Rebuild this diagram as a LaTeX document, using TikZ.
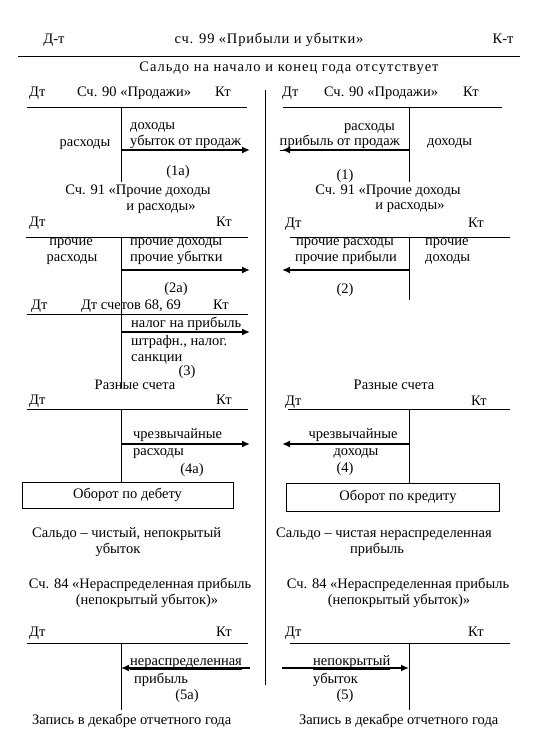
\documentclass[tikz,border=0pt]{standalone}
\usepackage{fontspec}
\setmainfont{Liberation Serif}
\newfontfamily\spacedfont{Liberation Serif}[LetterSpace=5.5]
\newfontfamily\widefont{Liberation Serif}[LetterSpace=7]
\usetikzlibrary{arrows.meta}
\begin{document}
\begin{tikzpicture}[x=1pt,y=-1pt,
  txt/.style={inner sep=0pt, font=\fontsize{14.5}{16}\selectfont},
  tl/.style={line width=0.9pt},
  arr/.style={line width=1.8pt,-{Latex[length=8pt,width=7pt]}},
  frame/.style={draw,line width=0.9pt,inner sep=0pt}]
\useasboundingbox (0,0) rectangle (551,735);

% ---------- header ----------
\node[txt,anchor=base] (dt0) at (54,44) {Д-т};
\node[txt,anchor=base] (title) at (269,44) {\spacedfont сч. 99 «Прибыли и убытки»};
\node[txt,anchor=base] (kt0) at (503,44) {К-т};
\coordinate (h0a) at (18,56); \coordinate (h0b) at (520,56);
\draw[tl] (h0a) -- (h0b);
\node[txt,anchor=base] (saldo0) at (289,72) {\widefont Сальдо на начало и конец года отсутствует};
\coordinate (mid1) at (265,90); \coordinate (mid2) at (265,685);
\draw[tl] (mid1) -- (mid2);

% ---------- left: 90 ----------
\node[txt,anchor=base west] (l90dt) at (29,97) {Дт};
\node[txt,anchor=base] (l90t) at (134,97) {Сч. 90 «Продажи»};
\node[txt,anchor=base west] (l90kt) at (215,97) {Кт};
\coordinate (l90a) at (27,107); \coordinate (l90b) at (247,107);
\coordinate (l90v1) at (121,107); \coordinate (l90v2) at (121,182);
\draw[tl] (l90a) -- (l90b); \draw[tl] (l90v1) -- (l90v2);
\node[txt,anchor=base] (l90r) at (85,147) {расходы};
\node[txt,anchor=base west] (l90d1) at (130,130) {доходы};
\node[txt,anchor=base west] (l90d2) at (130,146) {\underline{убыток от продаж}};
\coordinate (l90s) at (121,150); \coordinate (l90e) at (250,150);
\draw[arr] (l90s) -- (l90e);
\node[txt,anchor=base] (l90n) at (178,176) {(1а)};
\node[txt,anchor=base] (l91t1) at (138,195) {Сч. 91 «Прочие доходы};
\node[txt,anchor=base] (l91t2) at (161,211) {и расходы»};

% ---------- left: 91 ----------
\node[txt,anchor=base west] (l91dt) at (29,226) {Дт};
\node[txt,anchor=base west] (l91kt) at (216,226) {Кт};
\coordinate (l91a) at (26,237); \coordinate (l91b) at (248,237);
\coordinate (l91v1) at (121,237); \coordinate (l91v2) at (121,388);
\draw[tl] (l91a) -- (l91b); \draw[tl] (l91v1) -- (l91v2);
\node[txt,anchor=base] (l91r1) at (71,245) {прочие};
\node[txt,anchor=base] (l91r2) at (72,261) {расходы};
\node[txt,anchor=base west] (l91d1) at (130,245) {прочие доходы};
\node[txt,anchor=base west] (l91d2) at (130,261) {прочие убытки};
\coordinate (l91s) at (121,270); \coordinate (l91e) at (250,270);
\draw[arr] (l91s) -- (l91e);
\node[txt,anchor=base] (l91n) at (176,292) {(2а)};

% ---------- left: 68, 69 ----------
\node[txt,anchor=base west] (l68dt) at (31,309) {Дт};
\node[txt,anchor=base] (l68t) at (131,309) {Дт счетов 68, 69};
\node[txt,anchor=base west] (l68kt) at (213,309) {Кт};
\coordinate (l68a) at (27,314); \coordinate (l68b) at (248,314);
\draw[tl] (l68a) -- (l68b);
\node[txt,anchor=base west] (l68d1) at (131,327) {налог на прибыль};
\coordinate (l68s) at (121,332); \coordinate (l68e) at (250,332);
\draw[arr] (l68s) -- (l68e);
\node[txt,anchor=base west] (l68d2) at (131,345) {штрафн., налог.};
\node[txt,anchor=base west] (l68d3) at (131,361) {санкции};
\node[txt,anchor=base] (l68n) at (187,375) {(3)};
\node[txt,anchor=base] (lrt) at (135,389) {Разные счета};

% ---------- left: various ----------
\node[txt,anchor=base west] (lrdt) at (29,404) {Дт};
\node[txt,anchor=base west] (lrkt) at (216,404) {Кт};
\coordinate (lra) at (27,409); \coordinate (lrb) at (248,409);
\coordinate (lrv1) at (121,409); \coordinate (lrv2) at (121,482);
\draw[tl] (lra) -- (lrb); \draw[tl] (lrv1) -- (lrv2);
\node[txt,anchor=base west] (lrd1) at (133,438) {чрезвычайные};
\coordinate (lrs) at (121,444); \coordinate (lre) at (250,444);
\draw[arr] (lrs) -- (lre);
\node[txt,anchor=base west] (lrd2) at (133,455) {расходы};
\node[txt,anchor=base] (lrn) at (192,473) {(4а)};
\node[frame,minimum width=211pt,minimum height=26pt] (boxL) at (127.5,495) {};
\node[txt] (boxLt) at (127.5,495) {Оборот по дебету};

% ---------- right: 90 ----------
\node[txt,anchor=base west] (r90dt) at (282,97) {Дт};
\node[txt,anchor=base] (r90t) at (381,97) {Сч. 90 «Продажи»};
\node[txt,anchor=base west] (r90kt) at (463,97) {Кт};
\coordinate (r90a) at (283,107); \coordinate (r90b) at (502,107);
\coordinate (r90v1) at (409,107); \coordinate (r90v2) at (409,182);
\draw[tl] (r90a) -- (r90b); \draw[tl] (r90v1) -- (r90v2);
\node[txt,anchor=base east] (r90r1) at (395,131) {расходы};
\node[txt,anchor=base east] (r90r2) at (400,146) {\underline{прибыль от продаж}};
\node[txt,anchor=base west] (r90d) at (427,146) {доходы};
\coordinate (r90s) at (409,150); \coordinate (r90e) at (282,150);
\draw[arr] (r90s) -- (r90e);
\node[txt,anchor=base] (r90n) at (345,180) {(1)};
\node[txt,anchor=base] (r91t1) at (388,195) {Сч. 91 «Прочие доходы};
\node[txt,anchor=base] (r91t2) at (410,210) {и расходы»};

% ---------- right: 91 ----------
\node[txt,anchor=base west] (r91dt) at (285,227) {Дт};
\node[txt,anchor=base west] (r91kt) at (468,227) {Кт};
\coordinate (r91a) at (290,237); \coordinate (r91b) at (510,237);
\coordinate (r91v1) at (409,237); \coordinate (r91v2) at (409,300);
\draw[tl] (r91a) -- (r91b); \draw[tl] (r91v1) -- (r91v2);
\node[txt,anchor=base] (r91r1) at (345,245) {прочие расходы};
\node[txt,anchor=base] (r91r2) at (346,261) {прочие прибыли};
\node[txt,anchor=base west] (r91d1) at (425,245) {прочие};
\node[txt,anchor=base west] (r91d2) at (425,261) {доходы};
\coordinate (r91s) at (409,270); \coordinate (r91e) at (282,270);
\draw[arr] (r91s) -- (r91e);
\node[txt,anchor=base] (r91n) at (345,293) {(2)};

% ---------- right: various ----------
\node[txt,anchor=base] (rrt) at (394,389) {Разные счета};
\node[txt,anchor=base west] (rrdt) at (285,405) {Дт};
\node[txt,anchor=base west] (rrkt) at (471,405) {Кт};
\coordinate (rra) at (288,409); \coordinate (rrb) at (510,409);
\coordinate (rrv1) at (409,409); \coordinate (rrv2) at (409,483);
\draw[tl] (rra) -- (rrb); \draw[tl] (rrv1) -- (rrv2);
\node[txt,anchor=base] (rrd1) at (353,438) {чрезвычайные};
\coordinate (rrs) at (409,444); \coordinate (rre) at (282,444);
\draw[arr] (rrs) -- (rre);
\node[txt,anchor=base] (rrd2) at (356,455) {доходы};
\node[txt,anchor=base] (rrn) at (345,472) {(4)};
\node[frame,minimum width=213pt,minimum height=28pt] (boxR) at (392.5,497) {};
\node[txt] (boxRt) at (398,497) {Оборот по кредиту};

% ---------- saldo ----------
\node[txt,anchor=base west] (ls1) at (32,537) {Сальдо – чистый, непокрытый};
\node[txt,anchor=base] (ls2) at (118,553) {убыток};
\node[txt,anchor=base west] (rs1) at (276,537) {Сальдо – чистая нераспределенная};
\node[txt,anchor=base] (rs2) at (377,553) {прибыль};
\node[txt,anchor=base] (l84t1) at (140,588) {Сч. 84 «Нераспределенная прибыль};
\node[txt,anchor=base] (l84t2) at (147,604) {(непокрытый убыток)»};
\node[txt,anchor=base] (r84t1) at (398,588) {Сч. 84 «Нераспределенная прибыль};
\node[txt,anchor=base] (r84t2) at (399,604) {(непокрытый убыток)»};

% ---------- left: 84 ----------
\node[txt,anchor=base west] (l84dt) at (29,636) {Дт};
\node[txt,anchor=base west] (l84kt) at (216,636) {Кт};
\coordinate (l84a) at (27,643); \coordinate (l84b) at (248,643);
\coordinate (l84v1) at (121,643); \coordinate (l84v2) at (121,710);
\draw[tl] (l84a) -- (l84b); \draw[tl] (l84v1) -- (l84v2);
\node[txt,anchor=base west] (l84d1) at (130,665) {\underline{нераспределенная}};
\coordinate (l84s) at (250,668); \coordinate (l84e) at (121,668);
\draw[arr] (l84s) -- (l84e);
\node[txt,anchor=base west] (l84d2) at (134,683) {прибыль};
\node[txt,anchor=base] (l84n) at (187,699) {(5а)};
\node[txt,anchor=base west] (lzap) at (32,724) {Запись в декабре отчетного года};

% ---------- right: 84 ----------
\node[txt,anchor=base west] (r84dt) at (285,636) {Дт};
\node[txt,anchor=base west] (r84kt) at (468,636) {Кт};
\coordinate (r84a) at (290,643); \coordinate (r84b) at (510,643);
\coordinate (r84v1) at (409,643); \coordinate (r84v2) at (409,710);
\draw[tl] (r84a) -- (r84b); \draw[tl] (r84v1) -- (r84v2);
\node[txt,anchor=base west] (r84d1) at (313,665) {\underline{непокрытый}};
\coordinate (r84s) at (282,668); \coordinate (r84e) at (409,668);
\draw[arr] (r84s) -- (r84e);
\node[txt,anchor=base west] (r84d2) at (313,683) {убыток};
\node[txt,anchor=base] (r84n) at (345,699) {(5)};
\node[txt,anchor=base west] (rzap) at (299,724) {Запись в декабре отчетного года};
\end{tikzpicture}
\end{document}
